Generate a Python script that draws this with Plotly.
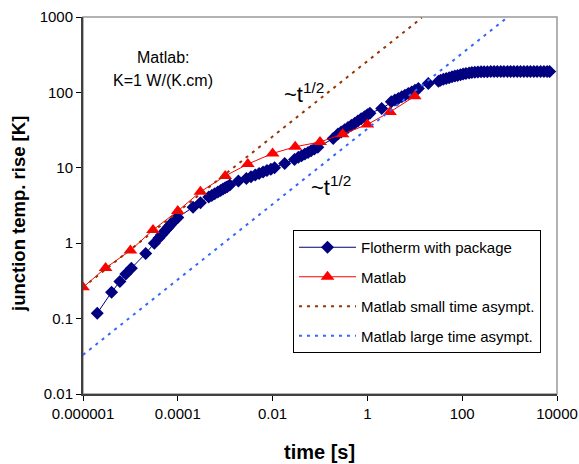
import plotly.graph_objects as go

# ---- data ----
flo_t = [2.0e-6, 4.0e-6, 6.0e-6, 8.0e-6, 1.05e-5, 2.1e-5, 3.2e-5,
         4.0e-5, 4.5e-5, 5.0e-5, 5.5e-5, 6.0e-5, 6.5e-5, 7.0e-5, 7.5e-5, 8.0e-5, 9.0e-5, 1.0e-4,
         2.1e-4, 3.0e-4,
         4.5e-4, 5.2e-4, 6.0e-4, 7.0e-4, 8.0e-4, 9.0e-4, 1.0e-3, 1.1e-3, 1.25e-3,
         1.9e-3,
         2.8e-3, 3.5e-3, 4.3e-3, 5.2e-3, 6.3e-3, 7.6e-3, 9.2e-3, 1.1e-2,
         1.8e-2, 2.9e-2,
         3.5e-2, 4.1e-2, 4.8e-2, 5.6e-2, 6.5e-2, 7.6e-2, 9.0e-2,
         0.19,
         0.24, 0.28, 0.33, 0.39, 0.46, 0.54, 0.63, 0.74, 0.87, 1.0, 1.13,
         2.0,
         3.2, 3.8, 4.5, 5.3, 6.2, 7.3, 8.6, 10.1, 11.9,
         19.3, 31.6,
         35, 40, 46, 53, 61, 70, 80, 92, 105, 120, 140, 160, 185, 215, 250, 290,
         340, 400, 470, 550, 650, 760, 900, 1050, 1230, 1450, 1700, 2000,
         2350, 2750, 3250, 3800, 4500, 5300, 6200, 7000]
flo_y = [0.118, 0.224, 0.31, 0.39, 0.465, 0.73, 1.0,
         1.17, 1.28, 1.38, 1.48, 1.57, 1.67, 1.76, 1.85, 1.93, 2.08, 2.2,
         3.0, 3.45,
         4.1, 4.3, 4.52, 4.78, 5.0, 5.22, 5.42, 5.62, 5.9,
         6.67,
         7.2, 7.6, 8.0, 8.4, 8.8, 9.2, 9.6, 10.0,
         11.4, 12.9,
         13.8, 14.5, 15.2, 16.0, 16.8, 17.7, 18.7,
         24.5,
         28.0, 29.8, 31.9, 34.2, 36.6, 39.1, 41.8, 44.6, 47.7, 50.6, 53.0,
         61.0,
         75.0, 79.0, 83.0, 87.5, 92.0, 96.5, 101.5, 107.0, 113.0,
         131.0, 141.0,
         145, 149, 153, 157, 161, 165, 168, 172, 175, 178, 181, 183, 185, 186.5, 187.5, 188,
         188.5, 189, 189, 189.5, 189.5, 190, 190, 190, 190, 190, 190, 190,
         190, 190, 190, 190, 190, 190, 190, 190]

mat_t = [1e-6, 3e-6, 1e-5, 3e-5, 1e-4, 3e-4, 1e-3, 3e-3, 1e-2, 3e-2, 0.1, 0.3, 1, 3, 10]
mat_y = [0.26, 0.47, 0.80, 1.50, 2.67, 4.8, 7.8, 11.2, 15.5, 19.0, 22.0, 27.9, 37.6, 55.0, 89.0]

small_t = [1e-6, 1e-5, 1e-4, 1e-3, 1e-2, 1e-1, 1, 10, 14]
small_y = [0.26, 0.82, 2.6, 8.2, 26, 82, 260, 820, 973]

large_t = [1e-6, 1e-5, 1e-4, 1e-3, 1e-2, 1e-1, 1, 10, 100, 930]
large_y = [0.033, 0.104, 0.33, 1.04, 3.3, 10.4, 33, 104, 330, 1006]

x_tickvals = [1e-6, 1e-4, 1e-2, 1, 100, 10000]
x_ticktext = ["0.000001", "0.0001", "0.01", "1", "100", "10000"]
y_tickvals = [0.01, 0.1, 1, 10, 100, 1000]
y_ticktext = ["0.01", "0.1", "1", "10", "100", "1000"]

FONT = "Liberation Sans, Arial, sans-serif"

# plot-area geometry in pixels
L, R, T, B = 83, 557, 17, 394
PW, PH = R - L, B - T


def px(x):
    return (x - L) / PW


def py(y):
    return (B - y) / PH


fig = go.Figure()
fig.add_trace(go.Scatter(
    x=flo_t, y=flo_y, mode="lines+markers", name="Flotherm with package",
    legendgroup="a",
    line=dict(color="#000080", width=1),
    marker=dict(symbol="diamond", size=10, color="#000080")))
fig.add_trace(go.Scatter(
    x=mat_t, y=mat_y, mode="lines+markers", name="Matlab",
    legendgroup="b",
    line=dict(color="#FF0000", width=1),
    marker=dict(symbol="triangle-up", size=12, color="#FF0000")))
fig.add_trace(go.Scatter(
    x=small_t, y=small_y, mode="lines", name="Matlab small time asympt.",
    legendgroup="c",
    line=dict(color="#993300", width=2, dash="3px,5px")))
fig.add_trace(go.Scatter(
    x=large_t, y=large_y, mode="lines", name="Matlab large time asympt.",
    legendgroup="d",
    line=dict(color="#3366FF", width=2, dash="3px,5px")))

axis_common = dict(
    showgrid=False, zeroline=False, ticks="outside", ticklen=5, tickwidth=1,
    tickcolor="#000000", showline=True, linecolor="#404040", linewidth=2,
    automargin=False,
    tickfont=dict(family=FONT, size=15, color="#000000"))

fig.update_xaxes(type="log", range=[-6, 4], tickvals=x_tickvals, ticktext=x_ticktext,
                 **axis_common)
fig.update_yaxes(type="log", range=[-2, 3], tickvals=y_tickvals, ticktext=y_ticktext,
                 **axis_common)

# light grey frame on top/right of plot area
fig.add_shape(type="rect", xref="paper", yref="paper", x0=0, y0=0, x1=1, y1=1,
              line=dict(color="#999999", width=1.5), layer="below")

# axis titles
fig.add_annotation(xref="paper", yref="paper", x=px(319), y=py(452), text="<b>time [s]</b>",
                   showarrow=False, font=dict(family=FONT, size=20, color="#000000"),
                   xanchor="center", yanchor="middle")
fig.add_annotation(xref="paper", yref="paper", x=px(18), y=py(214),
                   text="<b>junction temp. rise [K]</b>", textangle=-90,
                   showarrow=False, font=dict(family=FONT, size=18.5, color="#000000"),
                   xanchor="center", yanchor="middle")

ann_font = dict(family=FONT, size=16, color="#000000")
fig.add_annotation(xref="paper", yref="paper", x=px(163), y=py(58), text="Matlab:",
                   showarrow=False, font=ann_font, xanchor="center", yanchor="middle")
fig.add_annotation(xref="paper", yref="paper", x=px(163), y=py(80), text="K=1 W/(K.cm)",
                   showarrow=False, font=ann_font, xanchor="center", yanchor="middle")
big_font = dict(family=FONT, size=22, color="#000000")
fig.add_annotation(xref="paper", yref="paper", x=px(282), y=py(93), text="~t<sup>1/2</sup>",
                   showarrow=False, font=big_font, xanchor="left", yanchor="middle")
fig.add_annotation(xref="paper", yref="paper", x=px(309), y=py(186), text="~t<sup>1/2</sup>",
                   showarrow=False, font=big_font, xanchor="left", yanchor="middle")

fig.update_layout(
    width=579, height=464,
    margin=dict(l=L, r=579 - R, t=T, b=464 - B, autoexpand=False),
    paper_bgcolor="white", plot_bgcolor="white",
    showlegend=True,
    legend=dict(
        x=px(293), y=py(230), xanchor="left", yanchor="top",
        bgcolor="white", bordercolor="#000000", borderwidth=1,
        font=dict(family=FONT, size=15, color="#000000"),
        itemwidth=57, tracegroupgap=7, traceorder="grouped",
    ),
)

fig.write_html("out.html")
